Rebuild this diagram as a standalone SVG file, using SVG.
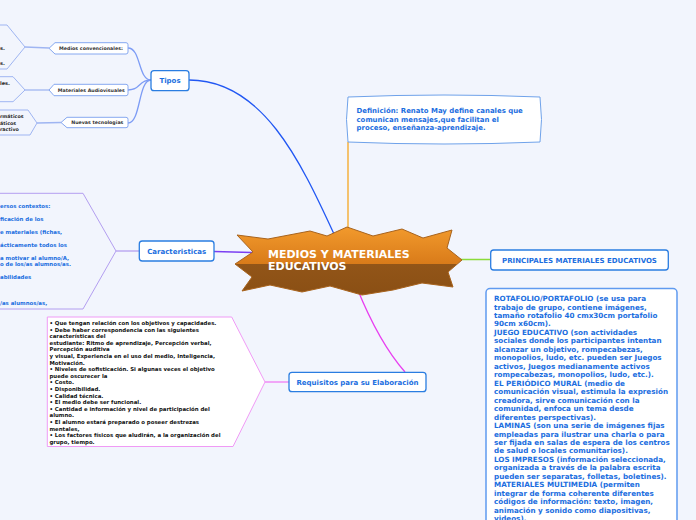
<svg xmlns="http://www.w3.org/2000/svg" width="696" height="520" viewBox="0 0 696 520">
<defs>
<linearGradient id="starFill" gradientUnits="userSpaceOnUse" x1="0" y1="227" x2="0" y2="296">
<stop offset="0" stop-color="#f29a2c"/>
<stop offset="0.535" stop-color="#d97b1a"/>
<stop offset="0.536" stop-color="#925518"/>
<stop offset="1" stop-color="#8a4f14"/>
</linearGradient>
</defs>
<style>
text{font-family:"DejaVu Sans","Liberation Sans",sans-serif;font-weight:bold}
.box{fill:#fff;stroke:#2a7de1;stroke-width:1.3}
.lbl{fill:#1b6ee0;font-size:7px;text-anchor:middle}
.blue{fill:#1b6ee0}
.dark{fill:#2b2b2b}
.tag{fill:#fff;stroke:#86a8f0;stroke-width:1}
.tagt{fill:#333;font-size:4.75px;text-anchor:middle}
.frm{fill:none;stroke:#9fb5f2;stroke-width:1}
.c{fill:none;stroke-width:1.3}
</style>
<rect width="696" height="520" fill="#f2f5fd"/>

<g id="connectors">
<path class="c" d="M189,80 C262,80 300,160 334,234" stroke="#2157f3" stroke-width="1.6"/>
<path class="c" d="M151,80 C138,80 141,48 128,48" stroke="#7d9cf5"/>
<path class="c" d="M151,80 C138,80 141,90 128,90" stroke="#7d9cf5"/>
<path class="c" d="M151,80 C138,80 141,123 128,123" stroke="#7d9cf5"/>
<path class="c" d="M25,47 L49,48" stroke="#9fb5f2"/>
<path class="c" d="M25,90 L49,90" stroke="#9fb5f2"/>
<path class="c" d="M37,123 L61,122.5" stroke="#9fb5f2"/>
<path class="c" d="M348,142 L348,234" stroke="#f5a623" stroke-width="1.5"/>
<path class="c" d="M214,251.5 L252,252.5" stroke="#7b3ff2" stroke-width="1.6"/>
<path class="c" d="M116,251 L139,251" stroke="#b39ef0"/>
<path class="c" d="M455,259.5 L490,259.5" stroke="#8bdb3a"/>
<path class="c" d="M357,288 C372,325 390,355 405,372" stroke="#e83ff0" stroke-width="1.5"/>
<path class="c" d="M289,382 L265,382" stroke="#f07af5"/>
</g>

<g id="frame-medios">
<path class="frm" d="M0,25 L7,25 L25,47 L7,69 L0,69"/>
<text class="dark" font-size="5" x="0" y="49.5">s.</text>
<text class="dark" font-size="5" x="0" y="64.5">s.</text>
</g>
<g id="frame-audiovisuales">
<path class="frm" d="M0,76.7 L13,76.7 L25,90 L13,101.7 L0,101.7"/>
<text class="dark" font-size="5" x="0" y="84.5">les.</text>
</g>
<g id="frame-tecnologias">
<path class="frm" d="M0,110 L28,110 L37,123 L30,135 L0,135"/>
<text class="dark" font-size="4.8" x="0" y="118">rmáticos</text>
<text class="dark" font-size="4.8" x="0" y="124.5">áticos</text>
<text class="dark" font-size="4.8" x="0" y="131">ractivo</text>
</g>

<g id="medios-convencionales">
<path class="tag" d="M49,48.3 L55,42.7 L126,42.7 Q128,42.7 128,44.7 L128,52 Q128,54 126,54 L55,54 Z"/>
<text class="tagt" x="91" y="50">Medios convencionales:</text>
</g>
<g id="materiales-audiovisuales">
<path class="tag" d="M49,90 L54,84.3 L126,84.3 Q128,84.3 128,86.3 L128,93.7 Q128,95.7 126,95.7 L54,95.7 Z"/>
<text class="tagt" x="91.3" y="91.8">Materiales Audiovisuales</text>
</g>
<g id="nuevas-tecnologias">
<path class="tag" d="M61,122.5 L67,117.3 L126,117.3 Q128,117.3 128,119.3 L128,125.7 Q128,127.7 126,127.7 L67,127.7 Z"/>
<text class="tagt" x="97.3" y="124.3">Nuevas tecnologias</text>
</g>

<g id="tipos">
<rect class="box" x="151" y="70.7" width="38" height="20" rx="3"/>
<text class="lbl" x="170" y="83.3">Tipos</text>
</g>

<g id="definicion">
<path d="M348,97 Q444,93 540,97 Q543,119.5 540,142 Q444,146 348,142 Q345,119.5 348,97 Z" fill="#fff" stroke="#6fa2ea" stroke-width="1"/>
<text class="blue" font-size="6.95" x="356.5" y="113.3">Definición: Renato May define canales que</text>
<text class="blue" font-size="6.95" x="356.5" y="121.5">comunican mensajes,que facilitan el</text>
<text class="blue" font-size="6.95" x="356.5" y="130.3">proceso, enseñanza-aprendizaje.</text>
</g>

<g id="frame-caracteristicas">
<path fill="none" stroke="#b39ef0" stroke-width="1" d="M0,193.3 L83,193.3 L116,251 L83,309 L0,309"/>
<g class="blue" font-size="5.4">
<text x="0" y="207.7">ersos contextos:</text>
<text x="0" y="221">ficación de los</text>
<text x="0" y="234.3">e materiales (fichas,</text>
<text x="0" y="247">ácticamente todos los</text>
<text x="0" y="260.3">a motivar al alumno/A,</text>
<text x="0" y="266.3">o de los/as alumnos/as.</text>
<text x="0" y="279.3">abilidades</text>
<text x="0" y="305.3">/as alumnos/as,</text>
</g>
</g>

<g id="caracteristicas">
<rect class="box" x="139.3" y="241" width="74.7" height="20" rx="3"/>
<text class="lbl" x="176.7" y="254">Caracteristicas</text>
</g>

<g id="central">
<polygon points="237,235 268,239 310,231 327,236 347,227 373,236 402,229 423,238 452,230 447,248 462,260 448,272 453,287 422,283 393,290 362,295 330,286 302,292 270,285 242,291 252,277 235,264 253,252" fill="url(#starFill)" stroke="#a8631d" stroke-width="1"/>
<text x="268" y="258.3" font-size="11" fill="#fff">MEDIOS Y MATERIALES</text>
<text x="268" y="270.3" font-size="11" fill="#fff">EDUCATIVOS</text>
</g>

<g id="principales">
<rect class="box" x="490.7" y="250" width="177.6" height="20" rx="3"/>
<text class="lbl" x="579.5" y="262.8" font-size="7.2">PRINCIPALES MATERIALES EDUCATIVOS</text>
</g>

<g id="materiales-lista">
<rect x="486" y="288.5" width="191" height="245" rx="4" fill="#fff" stroke="#5f9af0" stroke-width="1.5"/>
<g class="blue" font-size="7.2">
<text x="494" y="301">ROTAFOLIO/PORTAFOLIO (se usa para</text>
<text x="494" y="309.5">trabajo de grupo, contiene imágenes,</text>
<text x="494" y="318">tamaño rotafolio 40 cmx30cm portafolio</text>
<text x="494" y="326.4">90cm x60cm).</text>
<text x="494" y="334.9">JUEGO EDUCATIVO (son actividades</text>
<text x="494" y="343.4">sociales donde los participantes intentan</text>
<text x="494" y="351.8">alcanzar un objetivo, rompecabezas,</text>
<text x="494" y="360.3">monopolios, ludo, etc. pueden ser Juegos</text>
<text x="494" y="368.8">activos, Juegos medianamente activos</text>
<text x="494" y="377.2">rompecabezas, monopolios, ludo, etc.).</text>
<text x="494" y="385.7">EL PERIÓDICO MURAL (medio de</text>
<text x="494" y="394.2">comunicación visual, estimula la expresión</text>
<text x="494" y="402.6">creadora, sirve comunicación con la</text>
<text x="494" y="411.1">comunidad, enfoca un tema desde</text>
<text x="494" y="419.6">diferentes perspectivas).</text>
<text x="494" y="428">LAMINAS (son una serie de imágenes fijas</text>
<text x="494" y="436.5">empleadas para ilustrar una charla o para</text>
<text x="494" y="445">ser fijada en salas de espera de los centros</text>
<text x="494" y="453.4">de salud o locales comunitarios).</text>
<text x="494" y="461.9">LOS IMPRESOS (información seleccionada,</text>
<text x="494" y="470.4">organizada a través de la palabra escrita</text>
<text x="494" y="478.8">pueden ser separatas, folletas, boletines).</text>
<text x="494" y="487.3">MATERIALES MULTIMEDIA (permiten</text>
<text x="494" y="495.8">integrar de forma coherente diferentes</text>
<text x="494" y="504.2">códigos de información: texto, imagen,</text>
<text x="494" y="512.7">animación y sonido como diapositivas,</text>
<text x="494" y="521.2">videos).</text>
</g>
</g>

<g id="requisitos-lista">
<path d="M47.3,317 L231.7,317 L265,382 L233,446.5 L47.3,446.5 Z" fill="#fff" stroke="#f09af5" stroke-width="1"/>
<g fill="#111" font-size="5.4">
<text x="49.5" y="325">• Que tengan relación con los objetivos y capacidades.</text>
<text x="49.5" y="331.6">• Debe haber correspondencia con las siguientes</text>
<text x="49.5" y="338.2">características del</text>
<text x="49.5" y="344.8">estudiante: Ritmo de aprendizaje, Percepción verbal,</text>
<text x="49.5" y="351.4">Percepción auditiva</text>
<text x="49.5" y="358">y visual, Experiencia en el uso del medio, Inteligencia,</text>
<text x="49.5" y="364.6">Motivación.</text>
<text x="49.5" y="371.2">• Niveles de sofisticación. Si algunas veces el objetivo</text>
<text x="49.5" y="377.8">puede oscurecer la</text>
<text x="49.5" y="384.4">• Costo.</text>
<text x="49.5" y="391">• Disponibilidad.</text>
<text x="49.5" y="397.6">• Calidad técnica.</text>
<text x="49.5" y="404.2">• El medio debe ser funcional.</text>
<text x="49.5" y="410.8">• Cantidad e información y nivel de participación del</text>
<text x="49.5" y="417.4">alumno.</text>
<text x="49.5" y="424">• El alumno estará preparado o poseer destrezas</text>
<text x="49.5" y="430.6">mentales,</text>
<text x="49.5" y="437.2">• Los factores físicos que aludirán, a la organización del</text>
<text x="49.5" y="443.8">grupo, tiempo.</text>
</g>
</g>

<g id="requisitos">
<rect class="box" x="289" y="372.3" width="137" height="19.4" rx="3"/>
<text class="lbl" x="357.5" y="385.2" font-size="6.9">Requisitos para su Elaboración</text>
</g>
</svg>
